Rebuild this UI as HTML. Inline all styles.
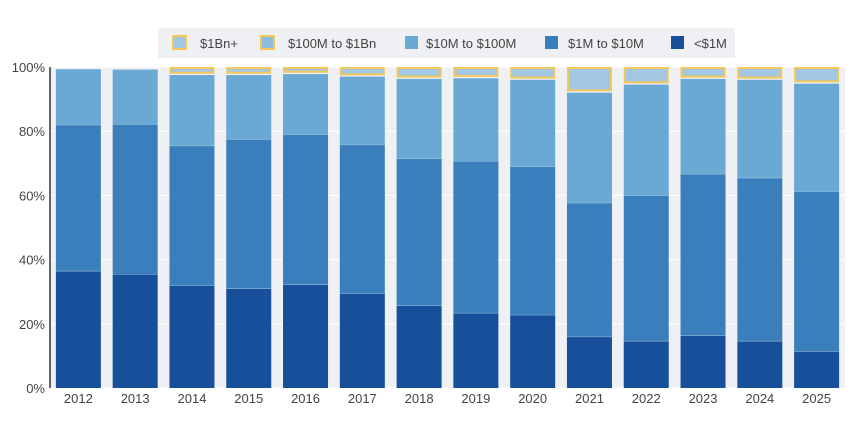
<!DOCTYPE html>
<html><head><meta charset="utf-8"><style>
body{margin:0;background:#fff;font-family:"Liberation Sans",sans-serif;}
svg text{font-family:"Liberation Sans",sans-serif;fill:#444;font-size:13px;}
</style></head><body>
<svg id="c" width="862" height="422"></svg>
<script>
const years=["2012","2013","2014","2015","2016","2017","2018","2019","2020","2021","2022","2023","2024","2025"];
const under1M=[36.5,35.5,32,31,32.3,29.5,25.7,23.4,22.8,16,14.7,16.4,14.7,11.5];
const m1to10=[45.5,46.7,43.5,46.5,46.7,46.3,45.8,47.3,46.2,41.7,45.3,50.3,50.8,49.8];
const m10to100=[17.3,17,22,20,18.8,21.2,24.8,25.8,27,34.3,34.5,29.6,30.5,33.5];
const m100to1Bn=[0.4,0.4,0.4,0.4,0.4,0.4,0.4,0.4,0.4,0.4,0.4,0.4,0.4,0.4];
const bn1plus=[0.3,0.4,2.1,2.1,1.8,2.6,3.3,3.1,3.6,7.6,5.1,3.3,3.6,4.8];
const yTicks=[0,20,40,60,80,100];
const series=[
 {name:"<$1M",vals:under1M,fill:"#174f9a",stroke:"none"},
 {name:"$1M to $10M",vals:m1to10,fill:"#3a7fbb",stroke:"none"},
 {name:"$10M to $100M",vals:m10to100,fill:"#6aa9d4",stroke:"none"},
 {name:"$100M to $1Bn",vals:m100to1Bn,fill:"#8dbcdc",stroke:"#f2c75c"},
 {name:"$1Bn+",vals:bn1plus,fill:"#a3c7e0",stroke:"#f2c75c"}];
const svg=document.getElementById('c');const NS="http://www.w3.org/2000/svg";
function el(t,a,p){const e=document.createElementNS(NS,t);for(const k in a)e.setAttribute(k,a[k]);(p||svg).appendChild(e);return e;}
const x0=50,x1=845,yTop=67,yBot=388;
const step=(x1-x0)/years.length,bw=45;
const xs=i=>x0+step*(i+0.5);
const ys=v=>yBot-(yBot-yTop)*v/100;
const bg=el('rect',{x:x0,y:yTop,width:x1-x0,height:yBot-yTop,fill:"#eef0f3"});


yTicks.forEach(t=>{
 const g=el('line',{x1:x0,x2:x1,y1:ys(t),y2:ys(t),stroke:"#fff","stroke-width":1});
 
 
 const l=el('text',{x:x0-5,y:ys(t)+5,"text-anchor":"end"});l.textContent=t+"%";
 
 
});
years.forEach((yr,i)=>{
 let cum=0;
 series.forEach((s,si)=>{
  const v=s.vals[i];const yA=ys(cum+v),yB=ys(cum);cum+=v;
  const inset=s.stroke==="none"?0:1;
  const r=el('rect',{x:xs(i)-bw/2+inset,y:yA+inset,width:bw-2*inset,height:Math.max(0,yB-yA-2*inset),fill:s.fill,stroke:s.stroke,"stroke-width":s.stroke==="none"?0:2});
  
  
  if(si<2){const sep=el('line',{x1:xs(i)-bw/2,x2:xs(i)+bw/2,y1:yA,y2:yA,stroke:"#a8cbe6","stroke-width":1});
   
   }
 });
 const t=el('text',{x:xs(i),y:403,"text-anchor":"middle"});t.textContent=yr;
 
 
});
const ax=el('line',{x1:x0,x2:x0,y1:yTop,y2:yBot,stroke:"#333","stroke-width":1.5});


// legend
const lg=el('rect',{x:158,y:28,width:577,height:30,fill:"#eef0f3"});


const leg=[["$1Bn+",4,173,200],["$100M to $1Bn",3,261,288],["$10M to $100M",2,405,426],["$1M to $10M",1,545,568],["<$1M",0,671,694]];
leg.forEach(([n,si,x,tx])=>{
 const s=series[si];
 const r=el('rect',{x:x,y:36,width:13,height:13,fill:s.fill,stroke:s.stroke,"stroke-width":s.stroke==="none"?0:2});
 
 
 const t=el('text',{x:tx,y:48});t.textContent=n;
 
 
});
</script>
</body></html>
